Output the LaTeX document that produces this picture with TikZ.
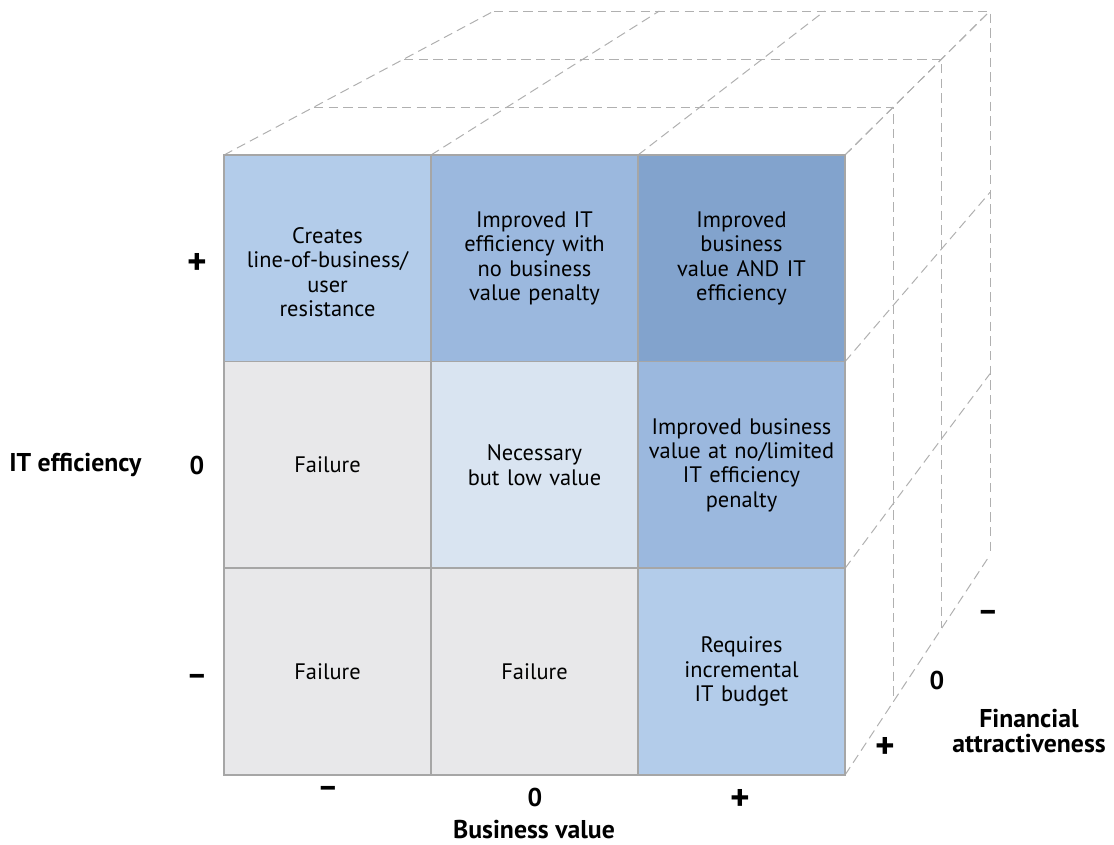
\documentclass[tikz,border=0pt]{standalone}
\usepackage{fontspec}
\setmainfont{PT Sans}
\usetikzlibrary{calc}
\definecolor{gridline}{HTML}{A6A6A6}
\definecolor{dashline}{HTML}{B0B0B0}
\definecolor{cblueA}{HTML}{B3CCEA}
\definecolor{cblueB}{HTML}{9BB8DE}
\definecolor{cblueC}{HTML}{82A3CD}
\definecolor{cpale}{HTML}{D9E4F1}
\definecolor{cgray}{HTML}{E8E8EA}
\tikzset{
  cell/.style={draw=gridline, line width=1.1pt, minimum width=155.25pt, minimum height=155pt,
    inner sep=0pt, text width=150pt, align=center, font=\fontsize{16.8}{18.3}\selectfont},
  hid/.style={draw=dashline, line width=0.75pt, dash pattern=on 7pt off 4pt},
  axl/.style={font=\fontsize{19.3}{20}\selectfont\bfseries, inner sep=0pt},
  axplus/.style={font=\fontsize{28}{28}\selectfont\bfseries, inner sep=0pt},
  axminus/.style={font=\fontsize{24}{24}\selectfont\bfseries, inner sep=0pt},
  ttl/.style={font=\fontsize{19.3}{18.6}\selectfont\bfseries, inner sep=0pt, align=center}
}
\begin{document}
\begin{tikzpicture}[x=0.75pt,y=-0.75pt]
\useasboundingbox (0,0) rectangle (1114,844);
% hidden cube lines
\foreach \t in {0.3333,0.6667,1} {
  \coordinate (tl) at ({224+270*\t},{155-144*\t});
  \coordinate (tr) at ({845+145*\t},{155-144*\t});
  \coordinate (br) at ({845+145*\t},{775-220*\t});
  \draw[hid] (tl) -- (tr) -- (br);
}
\foreach \i in {0,1,2,3} {
  \coordinate (fa) at ({224+207*\i},155);
  \coordinate (ba) at ({494+165.33*\i},11);
  \draw[hid] (fa) -- (ba);
  \coordinate (fb) at (845,{155+206.67*\i});
  \coordinate (bb) at (990,{11+181.33*\i});
  \draw[hid] (fb) -- (bb);
}
% cells
\node[cell, fill=cblueA] (c11) at (327.5,258.5) {};
\node[cell, fill=cblueB] (c12) at (534.5,258.5) {Improved IT\\efficiency with\\no business\\value penalty};
\node[cell, fill=cblueC] (c13) at (741.5,258.5) {Improved\\business\\value AND IT\\efficiency};
\node[cell, fill=cgray] (c21) at (327.5,465) {Failure};
\node[cell, fill=cpale] (c22) at (534.5,465) {Necessary\\but low value};
\node[cell, fill=cblueB] (c23) at (741.5,465) {Improved business\\value at no/limited\\IT efficiency\\penalty};
\node[cell, fill=cgray] (c31) at (327.5,671.5) {Failure};
\node[cell, fill=cgray] (c32) at (534.5,671.5) {Failure};
\node[cell, fill=cblueA] (c33) at (741.5,671.5) {Requires\\incremental\\IT budget};
\node[align=center, font=\fontsize{16.8}{18.3}\selectfont, inner sep=0pt] (t11) at (327.5,272) {Creates\\line-of-business/\\user\\resistance};
% IT efficiency axis
\node[axplus] (yp) at (197,264) {+};
\node[axl] (y0) at (197,465) {0};
\node[axminus] (ym) at (197,680) {–};
\node[ttl, anchor=west] (yt) at (9,465) {IT efficiency};
% Business value axis
\node[axminus] (xm) at (328,792) {–};
\node[axl] (x0) at (535,797) {0};
\node[axplus] (xp) at (740,800) {+};
\node[ttl] (xt) at (534,830) {Business value};
% Financial attractiveness axis
\node[axminus] (zm) at (988,616) {–};
\node[axl] (z0) at (937,680) {0};
\node[axplus] (zp) at (885,748) {+};
\node[ttl] (zt) at (1029,731) {Financial\\attractiveness};
\end{tikzpicture}
\end{document}
